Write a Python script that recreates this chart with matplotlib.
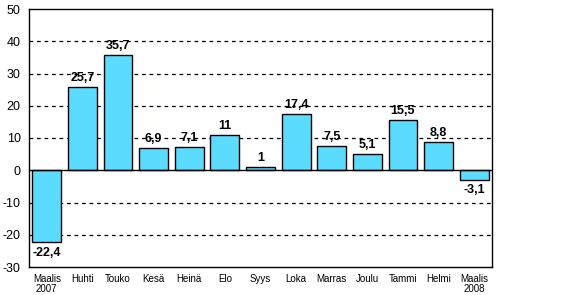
import matplotlib
matplotlib.use("Agg")
import matplotlib.pyplot as plt
import numpy as np

categories = ["Maalis\n2007", "Huhti", "Touko", "Kesä", "Heinä", "Elo", "Syys",
              "Loka", "Marras", "Joulu", "Tammi", "Helmi", "Maalis\n2008"]
values = [-22.4, 25.7, 35.7, 6.9, 7.1, 11, 1, 17.4, 7.5, 5.1, 15.5, 8.8, -3.1]
labels = ["-22,4", "25,7", "35,7", "6,9", "7,1", "11", "1", "17,4", "7,5", "5,1", "15,5", "8,8", "-3,1"]
yticks = [-30, -20, -10, 0, 10, 20, 30, 40, 50]

plt.rcParams['font.family'] = ['Liberation Sans', 'DejaVu Sans']

fig = plt.figure(figsize=(5.61, 2.95), dpi=100)
ax = fig.add_axes([29/561, 28/295, 463/561, 258/295])
x = np.arange(len(values))
ax.set_xlim(-0.5, len(values) - 0.5)
ax.set_ylim(-30, 50)

for yv in [-20, -10, 10, 20, 30, 40]:
    ax.axhline(yv, color='black', lw=0.9, ls=(0, (3, 3)), zorder=1)
ax.axhline(0, color='black', lw=1.0, zorder=3)

ax.bar(x, values, width=0.81, color='#5BDCFF', edgecolor='black', linewidth=1.0, zorder=2)

for xi, v, lab in zip(x, values, labels):
    if v >= 0:
        ax.text(xi, v + 0.9, lab, ha='center', va='bottom', fontsize=9, fontweight='bold', zorder=4)
    else:
        ax.text(xi, v - 1.3, lab, ha='center', va='top', fontsize=9, fontweight='bold', zorder=4)

ax.set_yticks(yticks)
ax.set_yticklabels([str(t) for t in yticks], fontsize=9)
ax.set_xticks(x)
ax.set_xticklabels(categories, fontsize=7, linespacing=0.95)
ax.tick_params(axis='both', length=0)
ax.tick_params(axis='x', pad=5)
ax.tick_params(axis='y', pad=6)
for s in ax.spines.values():
    s.set_linewidth(1.0)
    s.set_color('black')

fig.savefig("out.png", dpi=100)
